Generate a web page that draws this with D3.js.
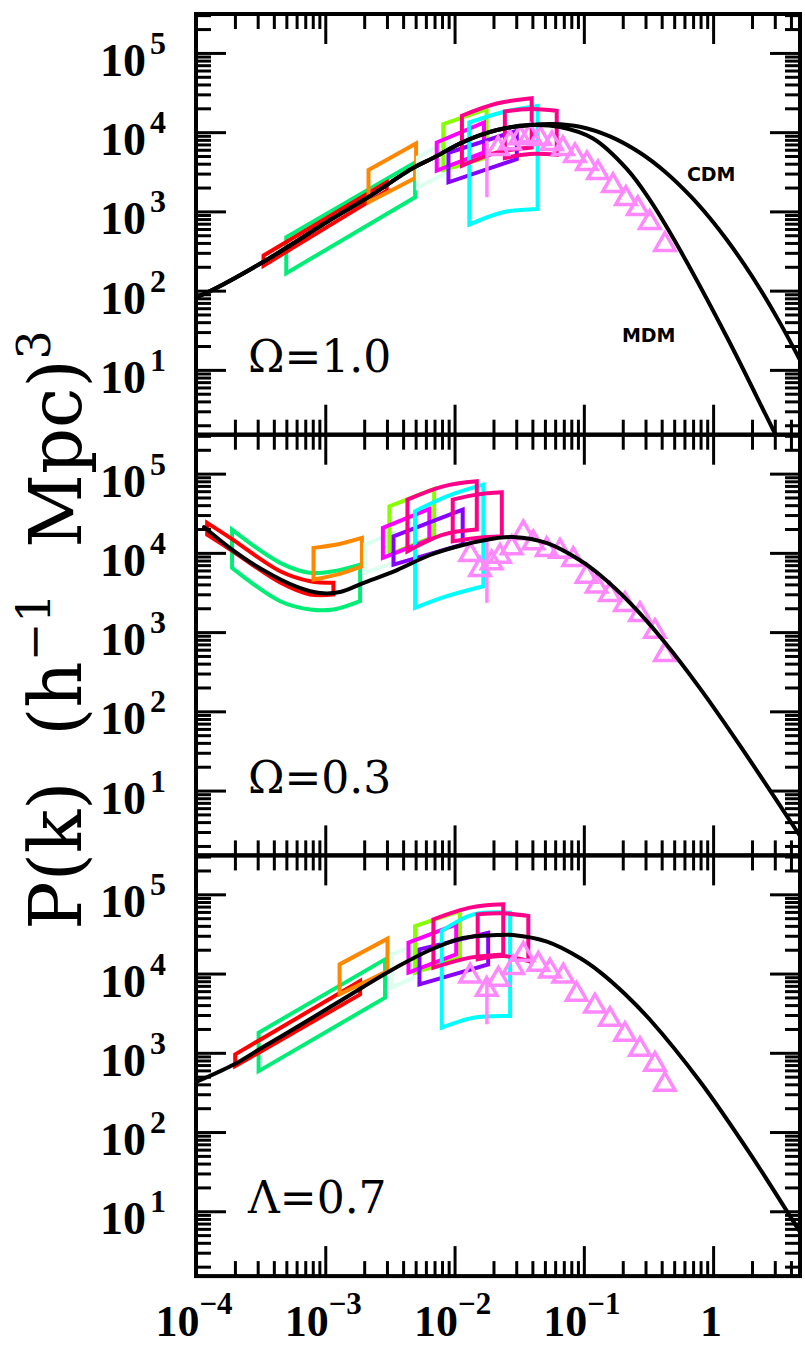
<!DOCTYPE html>
<html>
<head>
<meta charset="utf-8">
<script src="https://cdn.jsdelivr.net/npm/d3@7/dist/d3.min.js"></script>
<style>
html,body{margin:0;padding:0;background:#fff;}
svg{display:block;}
</style>
</head>
<body>
<svg id="chart" width="805" height="1349"></svg>
<script>
// ---------------- axis / text data ----------------
const kDomain = [1e-4, 4.7];
const pDomain = [1.52, 3.1e5];
const xMajorTicks = [1e-4, 1e-3, 1e-2, 1e-1, 1];
const xTickBase = ["10", "10", "10", "10", "1"];
const xTickExp = ["\u22124", "\u22123", "\u22122", "\u22121", ""];
const yMajorTicks = [1e1, 1e2, 1e3, 1e4, 1e5];
const yTickExp = ["1", "2", "3", "4", "5"];
const panelLabels = ["\u03A9=1.0", "\u03A9=0.3", "\u039B=0.7"];
const curveNames = ["CDM", "MDM"];

// ---------------- model curves ----------------
const cdmK = [1e-4, 1.24e-4, 3.30e-4, 1.089e-3, 2.10e-3, 4.77e-3, 6.81e-3, 1.161e-2, 2.13e-2, 3.84e-2, 5.77e-2, 9.33e-2, 0.1592, 0.2718, 0.4246, 0.663, 0.946, 1.280, 1.765, 2.306, 3.29, 4.70];
const cdmP = [83, 95.9, 229.6, 778, 1476, 3524, 4710, 7500, 10640, 12300, 12670, 11720, 8850, 5500, 3170, 1581, 820, 435, 207, 105, 39.2, 13.3];
const mdmK = [1e-4, 1.24e-4, 3.30e-4, 1.089e-3, 2.10e-3, 4.77e-3, 6.81e-3, 1.161e-2, 2.13e-2, 3.84e-2, 6.55e-2, 0.1178, 0.2158, 0.325, 0.526, 1.280, 2.90, 4.30];
const mdmP = [83, 95.9, 229.6, 778, 1476, 3524, 4710, 7500, 10640, 12300, 11610, 8310, 3410, 1387, 379, 25.8, 1.78, 0.5];
const openK = [1.153e-4, 1.833e-4, 3.30e-4, 6.04e-4, 9.10e-4, 1.30e-3, 1.96e-3, 3.59e-3, 6.46e-3, 1.161e-2, 2.13e-2, 2.83e-2, 5.19e-2, 9.33e-2, 0.1334, 0.2275, 0.425, 0.792, 1.615, 4.70];
const openP = [21180, 11510, 6070, 3710, 3110, 3205, 4160, 6070, 9400, 12560, 15380, 15850, 13250, 8070, 5250, 2333, 736, 195, 36.9, 2.67];
const lamK = [1e-4, 1.93e-4, 3.30e-4, 6.04e-4, 1.089e-3, 1.96e-3, 3.59e-3, 6.46e-3, 1.161e-2, 2.13e-2, 2.83e-2, 5.19e-2, 9.33e-2, 0.1334, 0.208, 0.325, 0.792, 1.93, 4.70];
const lamP = [428, 700, 1182, 2115, 3780, 6770, 12080, 19820, 28080, 30630, 30630, 25240, 15700, 10450, 5530, 2612, 434, 53.3, 5.47];

// ---------------- galaxy points (triangles) ----------------
const triK1 = [0.0217, 0.0268, 0.0321, 0.0383, 0.0458, 0.0567, 0.0689, 0.0853, 0.1056, 0.1285, 0.168, 0.2115, 0.2615, 0.3236, 0.4236];
const triP1 = [6180, 7350, 8490, 9010, 8270, 7150, 6180, 5050, 4000, 3080, 2115, 1450, 1084, 722, 382];
const triK2 = [0.0132, 0.01574, 0.01937, 0.02248, 0.02767, 0.03404, 0.04064, 0.05164, 0.06535, 0.08279, 0.1051, 0.1256, 0.159, 0.208, 0.2716, 0.355, 0.4236];
const triP2 = [9530, 6150, 7480, 9060, 11560, 17870, 13370, 11020, 10480, 8240, 5070, 3793, 2980, 2228, 1667, 1019, 521];
const triK3 = [0.0132, 0.01774, 0.02183, 0.02844, 0.03404, 0.04446, 0.0547, 0.06934, 0.0879, 0.1219, 0.159, 0.208, 0.2716, 0.355, 0.4236];
const triP3 = [9290, 6324, 8450, 11860, 17460, 13060, 10760, 9290, 5460, 3890, 2640, 1706, 1104, 714, 399];
const errK = [0.0178, 0.0178, 0.0178];
const errLo = [1507, 2340, 2290];
const errHi = [7800, 14720, 8450];

// ---------------- CMB band-power boxes ----------------
const boxes1 = [
  {exp: "B", k: [4.99e-4, 4.95e-3], hi: [472, 4150], lo: [166, 1507]},
  {exp: "A", k: [3.33e-4, 2.99e-3], hi: [277, 2328], lo: [207, 1828]},
  {exp: "C", k: [2.16e-3, 5.04e-3], hi: [3334, 7211], lo: [1303, 2685]},
  {exp: "D", k: [5.2e-3, 9e-3], hi: [4786, 7943], lo: [2000, 3162]},
  {exp: "E", k: [8.18e-3, 1.77e-2], hi: [12650, 19540], lo: [3334, 4797]},
  {exp: "F", k: [7.28e-3, 1.69e-2], hi: [7413, 13240], lo: [3266, 5546]},
  {exp: "G", k: [8.97e-3, 3.03e-2], hi: [5495, 10420], lo: [2328, 4581]},
  {exp: "I", k: [1.30e-2, 2.38e-2, 4.39e-2], hi: [13240, 18000, 21480], lo: [682, 975, 1074]},
  {exp: "H", k: [1.14e-2, 2.12e-2, 3.95e-2], hi: [16110, 23010, 26850], lo: [3776, 5546, 6412]},
  {exp: "J", k: [2.45e-2, 3.83e-2, 6.17e-2], hi: [18240, 19540, 18620], lo: [4721, 5297, 5188]}
];
const boxes2 = [
  {exp: "B", k: [1.90e-4, 4.48e-4, 7.64e-4, 1.156e-3, 1.86e-3], hi: [19680, 7482, 5598, 5861, 7112], lo: [6471, 2455, 1928, 1928, 2455]},
  {exp: "A", k: [1.22e-4, 1.84e-4, 4.48e-4, 7.64e-4, 1.156e-3], hi: [23880, 15450, 5861, 4385, 4188], lo: [17020, 11020, 4217, 2979, 2979]},
  {exp: "C", k: [8.11e-4, 1.23e-3, 1.92e-3], hi: [11560, 12740, 15450], lo: [4603, 5321, 6776]},
  {exp: "D", k: [2.03e-3, 3.37e-3], hi: [12740, 17860], lo: [5598, 7482]},
  {exp: "E", k: [3.13e-3, 6.95e-3], hi: [38730, 64120], lo: [9528, 16180]},
  {exp: "F", k: [2.79e-3, 6.38e-3], hi: [20650, 35890], lo: [8650, 14720]},
  {exp: "G", k: [3.37e-3, 1.156e-2], hi: [16180, 35160], lo: [7112, 12740]},
  {exp: "I", k: [4.95e-3, 8.71e-3, 1.67e-2], hi: [33500, 51760, 72610], lo: [2023, 2838, 3793]},
  {exp: "H", k: [4.32e-3, 8.18e-3, 1.486e-2], hi: [46990, 69180, 79980], lo: [10470, 17020, 19680]},
  {exp: "J", k: [9.68e-3, 1.486e-2, 2.32e-2], hi: [46990, 54330, 58070], lo: [14000, 15450, 16180]}
];
const boxes3 = [
  {exp: "B", k: [3.05e-4, 2.90e-3], hi: [1795, 15100], lo: [587, 4966]},
  {exp: "A", k: [2.01e-4, 1.86e-3], hi: [955, 8035], lo: [679, 5458]},
  {exp: "C", k: [1.29e-3, 3.03e-3], hi: [13060, 27610], lo: [5458, 10760]},
  {exp: "D", k: [3.27e-3, 4.81e-3], hi: [17460, 22230], lo: [6637, 8872]},
  {exp: "E", k: [4.95e-3, 1.10e-2], hi: [39810, 61520], lo: [10260, 15890]},
  {exp: "F", k: [4.40e-3, 1.03e-2], hi: [24550, 41780], lo: [10260, 17460]},
  {exp: "G", k: [5.35e-3, 1.82e-2], hi: [20230, 32810], lo: [7311, 13060]},
  {exp: "I", k: [7.96e-3, 1.40e-2, 2.69e-2], hi: [34430, 55850, 58750], lo: [2075, 2773, 2904]},
  {exp: "H", k: [6.86e-3, 1.32e-2, 2.38e-2], hi: [48310, 67920, 74820], lo: [11860, 15890, 17460]},
  {exp: "J", k: [1.51e-2, 2.38e-2, 3.72e-2], hi: [55850, 57540, 53210], lo: [15100, 16630, 14390]}
];

// ---------------- styles ----------------
const expColors = {A: "#ff0000", B: "#00ee77", C: "#ff8800", D: "#ddfff0", E: "#88ff00",
  F: "#ff00ff", G: "#8800ff", H: "#ff0088", I: "#00ffff", J: "#ff0088"};
const triColor = "#ff88ff";

// ---------------- layout ----------------
const plotLeft = 196, plotRight = 800, plotTop = 14, panelH = 420.7;
const svg = d3.select("#chart");
const x = d3.scaleLog().domain(kDomain).range([plotLeft, plotRight]);
const ys = [0, 1, 2].map(i => d3.scaleLog().domain(pDomain)
  .range([plotTop + (i + 1) * panelH, plotTop + i * panelH]));

const allX = x.ticks();
const xMinor = allX.filter(v => !xMajorTicks.some(m => Math.abs(m - v) / m < 1e-6));
const allY = ys[0].ticks();
const isDecade = v => Math.abs(Math.log10(v) - Math.round(Math.log10(v))) <= 1e-6;
const yMinor = allY.filter(v => !isDecade(v));
const yMajorAll = allY.filter(isDecade);

const defs = svg.append("defs");
ys.forEach((y, i) => {
  defs.append("clipPath").attr("id", "clip" + i).append("rect")
    .attr("x", plotLeft).attr("y", y.range()[1])
    .attr("width", plotRight - plotLeft).attr("height", panelH);
});

const lineGen = y => d3.line().x(d => x(d[0])).y(d => y(d[1])).curve(d3.curveCatmullRom.alpha(0.5));

function boxPath(b, y) {
  const gen = d3.line().curve(d3.curveCatmullRom.alpha(0.5));
  const top = b.k.map((k, i) => [x(k), y(b.hi[i])]);
  const bot = b.k.map((k, i) => [x(k), y(b.lo[i])]).reverse();
  return gen(top) + "L" + gen(bot).slice(1) + "Z";
}

const boxSets = [boxes1, boxes2, boxes3];
const triSets = [[triK1, triP1], [triK2, triP2], [triK3, triP3]];
const curveSets = [
  [[cdmK, cdmP], [mdmK, mdmP]],
  [[openK, openP]],
  [[lamK, lamP]]
];

ys.forEach((y, i) => {
  const g = svg.append("g").attr("clip-path", `url(#clip${i})`);
  g.selectAll("path.box").data(boxSets[i]).join("path")
    .attr("class", "box")
    .attr("d", b => boxPath(b, y))
    .attr("fill", "none")
    .attr("stroke", b => expColors[b.exp])
    .attr("stroke-width", 4)
    .attr("stroke-linejoin", "miter");
  g.append("line")
    .attr("x1", x(errK[i])).attr("x2", x(errK[i]))
    .attr("y1", y(errLo[i])).attr("y2", y(errHi[i]))
    .attr("stroke", triColor).attr("stroke-width", 3.5);
  const tri = d3.zip(triSets[i][0], triSets[i][1]);
  g.selectAll("path.tri").data(tri).join("path")
    .attr("class", "tri")
    .attr("d", d3.symbol().type(d3.symbolTriangle).size(180))
    .attr("transform", d => `translate(${x(d[0])},${y(d[1])})`)
    .attr("fill", "none").attr("stroke", triColor).attr("stroke-width", 3.5);
  curveSets[i].forEach(c => {
    g.append("path")
      .attr("d", lineGen(y)(d3.zip(c[0], c[1])))
      .attr("fill", "none").attr("stroke", "#000").attr("stroke-width", 4)
      .attr("stroke-linecap", "round");
  });
});

// ---------------- axes (ticks) ----------------
function styleAxis(g) {
  g.select(".domain").remove();
  g.selectAll(".tick line").attr("stroke", "#000").attr("stroke-width", 3);
  g.selectAll(".tick text").remove();
}
ys.forEach((y, i) => {
  const top = y.range()[1], bot = y.range()[0];
  svg.append("g").attr("transform", `translate(0,${top})`)
    .call(d3.axisTop(x).tickValues(xMinor).tickSize(-15)).call(styleAxis);
  svg.append("g").attr("transform", `translate(0,${top})`)
    .call(d3.axisTop(x).tickValues(xMajorTicks).tickSize(-30)).call(styleAxis);
  svg.append("g").attr("transform", `translate(0,${bot})`)
    .call(d3.axisBottom(x).tickValues(xMinor).tickSize(-15)).call(styleAxis);
  svg.append("g").attr("transform", `translate(0,${bot})`)
    .call(d3.axisBottom(x).tickValues(xMajorTicks).tickSize(-30)).call(styleAxis);
  svg.append("g").attr("transform", `translate(${plotLeft},0)`)
    .call(d3.axisLeft(y).tickValues(yMinor).tickSize(-15)).call(styleAxis);
  svg.append("g").attr("transform", `translate(${plotLeft},0)`)
    .call(d3.axisLeft(y).tickValues(yMajorAll).tickSize(-30)).call(styleAxis);
  svg.append("g").attr("transform", `translate(${plotRight},0)`)
    .call(d3.axisRight(y).tickValues(yMinor).tickSize(-15)).call(styleAxis);
  svg.append("g").attr("transform", `translate(${plotRight},0)`)
    .call(d3.axisRight(y).tickValues(yMajorAll).tickSize(-30)).call(styleAxis);

  const lab = svg.append("g")
    .attr("font-family", "'Liberation Serif', serif").attr("font-weight", "bold");
  yMajorTicks.forEach((v, j) => {
    const yy = y(v);
    lab.append("text").attr("x", 146).attr("y", yy + 23)
      .attr("text-anchor", "end").attr("font-size", 46).text("10");
    lab.append("text").attr("x", 150).attr("y", yy + 1)
      .attr("font-size", 32).text(yTickExp[j]);
  });

  svg.append("text").attr("x", 248).attr("y", top + 358)
    .attr("font-family", "'DejaVu Serif', serif").attr("font-size", 44)
    .text(panelLabels[i]);

  svg.append("rect").attr("x", plotLeft).attr("y", top)
    .attr("width", plotRight - plotLeft).attr("height", bot - top)
    .attr("fill", "none").attr("stroke", "#000").attr("stroke-width", 4);
});

// x tick labels
const xl = svg.append("g").attr("font-family", "'Liberation Serif', serif").attr("font-weight", "bold");
xMajorTicks.forEach((v, j) => {
  const t = xl.append("text").attr("x", x(v) - 2).attr("y", 1336)
    .attr("text-anchor", "middle");
  t.append("tspan").attr("font-size", 44).text(xTickBase[j]);
  if (xTickExp[j]) t.append("tspan").attr("font-size", 31).attr("dy", -22).text(xTickExp[j]);
});

// curve name labels (anchored in data space)
svg.append("text").attr("x", x(0.627)).attr("y", ys[0](2440))
  .attr("font-family", "'DejaVu Sans', sans-serif").attr("font-weight", "bold")
  .attr("font-size", 19).text(curveNames[0]);
svg.append("text").attr("x", x(0.197)).attr("y", ys[0](22.3))
  .attr("font-family", "'DejaVu Sans', sans-serif").attr("font-weight", "bold")
  .attr("font-size", 19).text(curveNames[1]);

// y axis title
const yt = svg.append("text").attr("transform", "translate(81,630) rotate(-90)")
  .attr("text-anchor", "middle")
  .attr("font-family", "'DejaVu Serif', serif").attr("font-size", 72);
yt.append("tspan").text("P(k)\u00A0\u00A0(h");
yt.append("tspan").attr("font-size", 46).attr("dy", -31).text("\u22121");
yt.append("tspan").attr("dy", 31).text("\u00A0\u00A0Mpc)");
yt.append("tspan").attr("font-size", 46).attr("dy", -31).text("3");
</script>
</body>
</html>
